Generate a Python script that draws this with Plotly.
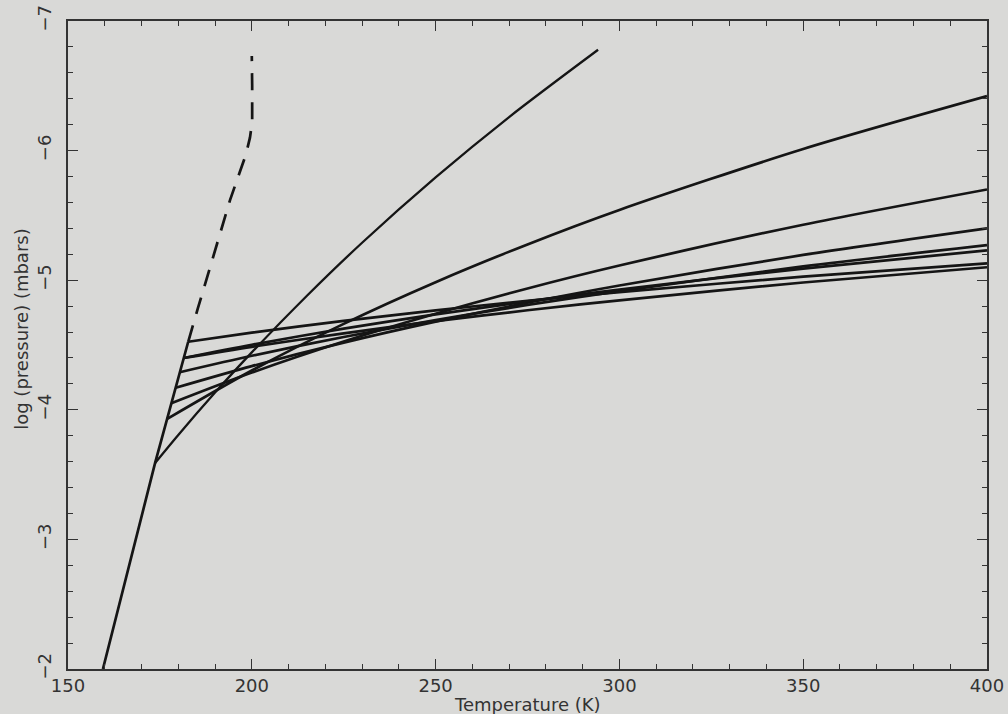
import plotly.graph_objects as go

# ---- data ----
steep_T = [159.5, 173.7, 182.7]
steep_logp = [-2.0, -3.59, -4.525]

dash_T = [182.7, 185.3, 194.1, 198.4, 199.5, 200.1, 200.1, 200.0]
dash_logp = [-4.525, -4.78, -5.62, -5.97, -6.10, -6.22, -6.50, -6.73]

curve_a_T = [173.7, 180, 190, 200, 215, 230, 250, 270, 294.2]
curve_a_logp = [-3.59, -3.806, -4.133, -4.443, -4.880, -5.289, -5.793, -6.259, -6.778]

profile_T = [200, 225, 250, 275, 300, 350, 400]
profile_start_T = [177.0, 178.1, 179.3, 180.4, 181.5, 181.5, 182.7]
profile_start_logp = [-3.93, -4.05, -4.17, -4.29, -4.40, -4.40, -4.525]
profile_1 = [-4.303, -4.663, -4.985, -5.276, -5.542, -6.012, -6.42]
profile_2 = [-4.287, -4.527, -4.741, -4.936, -5.113, -5.428, -5.70]
profile_3 = [-4.337, -4.518, -4.680, -4.826, -4.959, -5.195, -5.40]
profile_4 = [-4.417, -4.562, -4.692, -4.809, -4.916, -5.106, -5.27]
profile_5 = [-4.502, -4.626, -4.736, -4.836, -4.928, -5.090, -5.23]
profile_6 = [-4.486, -4.590, -4.684, -4.768, -4.845, -4.982, -5.10]
profile_7 = [-4.595, -4.686, -4.767, -4.841, -4.908, -5.027, -5.13]
profiles = [profile_1, profile_2, profile_3, profile_4, profile_5, profile_6, profile_7]

x_ticks = [150, 200, 250, 300, 350, 400]
y_ticks = [-2, -3, -4, -5, -6, -7]

# ---- figure ----
BG = "#d9d9d7"
INK = "#151515"
fig = go.Figure()

fig.add_trace(go.Scatter(x=steep_T, y=steep_logp, mode="lines",
                         line=dict(color=INK, width=2.7), hoverinfo="skip"))
fig.add_trace(go.Scatter(x=dash_T, y=dash_logp, mode="lines",
                         line=dict(color=INK, width=2.7, dash="17px,12px"), hoverinfo="skip"))
fig.add_trace(go.Scatter(x=curve_a_T, y=curve_a_logp, mode="lines",
                         line=dict(color=INK, width=2.3, shape="spline", smoothing=0.8),
                         hoverinfo="skip"))
for st, sp, prof in zip(profile_start_T, profile_start_logp, profiles):
    fig.add_trace(go.Scatter(x=[st] + profile_T, y=[sp] + prof, mode="lines",
                             line=dict(color=INK, width=2.7, shape="spline", smoothing=0.8),
                             hoverinfo="skip"))

axis_common = dict(
    showgrid=False, zeroline=False, showline=True, linecolor="#333333", linewidth=1.5,
    mirror="ticks", ticks="inside", ticklen=10, tickwidth=1.3, tickcolor="#333333",
    tickfont=dict(family="DejaVu Sans", size=18, color="#333333"),
    automargin=False,
)

fig.update_xaxes(range=[150, 400], tickvals=x_ticks, ticktext=[str(v) for v in x_ticks],
                 minor=dict(dtick=10, ticks="inside", ticklen=5, tickwidth=1.2, tickcolor="#333333"),
                 **axis_common)
fig.update_yaxes(range=[-2, -7], tickvals=y_ticks, ticktext=["\u2212" + str(-v) for v in y_ticks],
                 tickangle=-90, ticklabelstandoff=8,
                 minor=dict(dtick=0.2, ticks="inside", ticklen=5, tickwidth=1.2, tickcolor="#333333"),
                 **axis_common)

fig.add_annotation(text="Temperature (K)", xref="paper", yref="paper", x=0.5, y=0,
                   yshift=-35, showarrow=False, yanchor="middle",
                   font=dict(family="DejaVu Sans", size=18, color="#333333"))
fig.add_annotation(text="log (pressure) (mbars)", xref="paper", yref="paper", x=0, y=0.525,
                   xshift=-46, showarrow=False, textangle=-90, xanchor="center",
                   font=dict(family="DejaVu Sans", size=18, color="#333333"))

fig.update_layout(
    width=1008, height=714, showlegend=False,
    paper_bgcolor=BG, plot_bgcolor=BG,
    margin=dict(l=68, r=21, t=21, b=45),
)

fig.write_html("out.html")
